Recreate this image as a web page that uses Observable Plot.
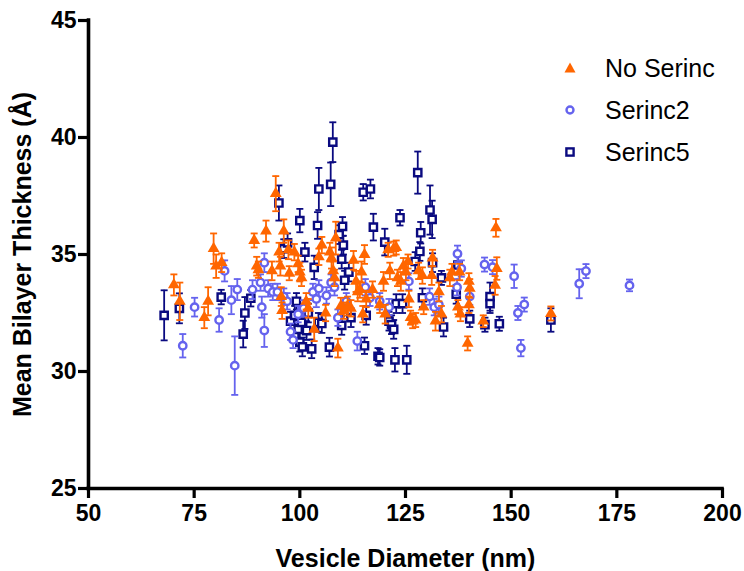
<!DOCTYPE html>
<html><head><meta charset="utf-8">
<script src="https://cdn.jsdelivr.net/npm/d3@7"></script>
<script src="https://cdn.jsdelivr.net/npm/@observablehq/plot@0.6"></script>
<style>
body{margin:0;background:#fff;font-family:"Liberation Sans",Arial,sans-serif}
#wrap{position:relative;width:744px;height:571px}
#legend{position:absolute;left:564px;top:47px;font-size:25px;color:#000}
.item{display:flex;align-items:center;height:42px}
.item svg{margin-right:29px;overflow:visible}
</style></head><body><div id="wrap"><div id="chart"></div><div id="legend"></div></div>
<script>
const seriesNames = ["No Serinc", "Serinc2", "Serinc5"];
const seriesColors = ["#ff6600", "#6563ee", "#0a0a80"];
const xTicks = [50, 75, 100, 125, 150, 175, 200];
const yTicks = [25, 30, 35, 40, 45];
const xTitle = "Vesicle Diameter (nm)";
const yTitle = "Mean Bilayer Thickness (Å)";

// No Serinc: diameter, thickness, error
const noSerincX = [70.2,71.6,77.4,78.3,79.6,80.2,81.5,89.2,89.8,90.2,92.0,93.4,94.3,95.1,95.4,95.8,95.6,96.2,97.3,97.5,98.7,99.6,100.0,100.4,101.5,102.0,103.4,104.5,105.2,106.1,107.1,107.5,107.9,108.2,108.5,109.0,109.7,110.4,111.3,112.1,112.7,113.3,113.7,114.2,114.6,114.9,115.3,115.7,117.2,118.9,119.8,120.2,120.9,121.3,122.2,122.8,123.1,123.9,124.5,125.1,125.6,125.8,126.2,126.7,127.4,128.1,129.0,129.3,131.2,131.4,132.1,132.9,133.5,135.5,136.0,137.4,137.8,138.0,139.7,140.0,140.2,140.0,143.4,146.4,146.6,146.2,159.4];
const noSerincY = [33.7,33.0,32.3,33.0,35.25,34.5,34.65,35.6,34.5,34.35,36.0,34.3,37.6,35.1,34.5,32.6,33.2,36.0,35.2,34.2,35.1,34.6,34.25,34.0,33.0,32.7,31.8,34.9,35.4,32.5,35.1,34.85,34.3,34.0,35.7,31.0,32.8,32.6,32.8,32.7,34.75,33.85,33.4,33.5,34.25,32.45,35.0,33.1,33.5,32.85,33.85,32.45,35.2,34.3,35.25,35.3,34.0,33.85,34.5,34.25,34.7,33.1,32.3,32.15,32.2,34.3,34.1,32.75,34.1,34.85,32.15,33.4,32.45,34.0,34.25,32.75,34.25,32.45,31.2,32.85,33.55,33.85,32.15,36.14,34.4,33.68,32.48];
const noSerincErr = [0.45,0.8,0.45,0.6,0.65,0.5,0.4,0.3,0.4,0.35,0.45,0.4,0.75,0.4,0.4,0.35,0.4,0.5,0.4,0.3,0.35,0.35,0.4,0.35,0.35,0.4,0.5,0.35,0.35,0.35,0.4,0.45,0.4,0.35,0.7,0.4,0.35,0.35,0.4,0.35,0.4,0.45,0.4,0.35,0.45,0.35,0.4,0.35,0.35,0.35,0.4,0.4,0.3,0.35,0.3,0.3,0.35,0.4,0.35,0.35,0.3,0.35,0.3,0.3,0.3,0.35,0.35,0.3,0.4,0.35,0.4,0.4,0.35,0.35,0.35,0.3,0.35,0.3,0.3,0.35,0.4,0.35,0.25,0.38,0.48,0.4,0.3];

// Serinc2
const serinc2X = [72.3,75.1,80.9,82.2,83.8,84.6,85.2,88.8,90.7,91.0,91.6,91.6,92.5,93.6,94.7,96.2,97.0,97.8,98.4,99.6,100.9,103.1,103.9,104.5,106.3,107.4,108.2,109.0,111.0,113.6,115.5,116.6,118.9,121.1,125.8,130.7,131.8,132.9,137.3,137.2,138.2,140.2,143.7,145.6,150.7,151.6,152.3,153.1,166.1,167.7,178.0];
const serinc2Y = [31.1,32.75,32.2,34.3,33.05,30.25,33.5,33.5,33.8,32.75,34.65,31.75,33.55,33.4,33.4,33.2,33.0,31.7,31.35,32.45,32.7,33.4,33.1,33.55,33.25,33.8,33.6,32.3,33.0,31.3,33.6,33.15,33.0,32.75,33.85,33.2,32.75,32.85,35.03,33.6,34.4,33.2,34.57,34.46,34.07,32.5,31.0,32.86,33.75,34.29,33.68];
const serinc2Err = [0.5,0.4,0.5,0.45,0.6,1.25,0.45,0.4,0.35,0.45,0.4,0.7,0.35,0.35,0.35,0.35,0.35,0.35,0.35,0.35,0.35,0.35,0.35,0.35,0.35,0.35,0.35,0.35,0.35,0.4,0.35,0.35,0.35,0.35,0.35,0.35,0.35,0.35,0.35,0.35,0.35,0.35,0.3,0.3,0.5,0.3,0.35,0.3,0.62,0.3,0.25];

// Serinc5
const serinc5X = [67.9,71.5,81.4,86.6,87.0,88.4,95.05,96.2,97.1,97.8,98.8,99.2,99.6,100.0,100.6,100.0,100.4,101.2,101.6,102.0,102.8,103.4,104.2,104.5,104.4,105.2,107.0,107.3,107.8,109.3,109.9,109.9,110.1,110.3,110.6,111.6,112.1,115.0,115.3,115.7,116.7,117.4,118.5,118.9,120.1,121.1,121.7,122.2,122.5,122.8,123.7,124.3,125.3,127.3,127.9,128.6,128.4,129.0,130.8,131.3,131.4,133.5,134.0,137.0,137.4,140.2,143.8,145.0,145.0,147.2,159.4];
const serinc5Y = [32.4,32.7,33.18,31.6,32.5,33.13,37.2,35.25,35.5,32.15,32.4,33.0,31.8,31.25,31.05,36.45,32.1,35.1,31.75,32.5,30.97,34.45,36.24,37.8,32.1,32.05,31.04,38.0,39.8,35.85,31.97,34.8,36.2,35.4,33.9,34.25,32.3,37.66,31.1,32.4,37.8,36.17,30.65,30.6,35.53,32.15,32.0,31.8,30.5,32.9,36.57,32.9,30.5,34.7,38.5,35.93,35.13,33.15,36.9,36.5,34.65,34.0,31.9,33.3,34.55,32.25,32.0,33.2,32.9,32.04,32.2];
const serinc5Err = [1.07,0.64,0.31,0.57,0.68,0.35,0.75,0.4,0.4,0.4,0.4,0.35,0.4,0.4,0.4,0.5,0.4,0.4,0.4,0.4,0.4,0.5,0.57,0.9,0.4,0.4,0.4,0.93,0.85,0.4,0.4,0.4,0.4,0.4,0.4,0.4,0.4,0.35,0.35,0.4,0.4,0.57,0.35,0.35,0.57,0.4,0.4,0.4,0.5,0.4,0.33,0.4,0.6,0.4,0.9,0.46,0.4,0.4,1.05,0.8,0.4,0.3,0.4,0.4,0.4,0.35,0.3,0.6,0.4,0.3,0.5];

const build = (xs, ys, es) => xs.map((x, i) => ({x, y: ys[i], e: es[i]}));
const datasets = [
  build(noSerincX, noSerincY, noSerincErr),
  build(serinc2X, serinc2Y, serinc2Err),
  build(serinc5X, serinc5Y, serinc5Err)
];

const cap = {draw(ctx) { ctx.moveTo(-3.5, 0); ctx.lineTo(3.5, 0); }};

function seriesMarks(i) {
  const data = datasets[i], c = seriesColors[i];
  const main = i === 0
    ? Plot.dot(data, {x: "x", y: "y", symbol: "triangle", r: 4.4, fill: c, stroke: "none"})
    : i === 1
    ? Plot.dot(data, {x: "x", y: "y", symbol: "circle", r: 3.7, fill: "white", stroke: c, strokeWidth: 2.4})
    : Plot.dot(data, {x: "x", y: "y", symbol: "square", r: 4.1, fill: "white", stroke: c, strokeWidth: 2.4});
  return [
    Plot.ruleX(data, {x: "x", y1: d => d.y - d.e, y2: d => d.y + d.e, stroke: c, strokeWidth: 1.8}),
    Plot.dot(data, {x: "x", y: d => d.y - d.e, symbol: cap, stroke: c, strokeWidth: 1.8, fill: "none"}),
    Plot.dot(data, {x: "x", y: d => d.y + d.e, symbol: cap, stroke: c, strokeWidth: 1.8, fill: "none"}),
    main
  ];
}

const chart = Plot.plot({
  width: 744,
  height: 571,
  marginLeft: 88,
  marginRight: 22,
  marginTop: 20,
  marginBottom: 83,
  style: {fontFamily: "'Liberation Sans', Arial, sans-serif", fontWeight: "bold", fontSize: "22px", color: "#000", background: "#fff"},
  x: {domain: [50, 200]},
  y: {domain: [25, 45]},
  marks: [
    ...seriesMarks(2),
    ...seriesMarks(1),
    ...seriesMarks(0),
    Plot.axisX({ticks: xTicks, tickSize: 10, tickPadding: 6, strokeWidth: 3.2, label: null, fontSize: 23, fontWeight: "bold"}),
    Plot.axisY({ticks: yTicks, tickSize: 10, tickPadding: 2, strokeWidth: 3.2, label: null, fontSize: 23, fontWeight: "bold"}),
    Plot.ruleX([50], {strokeWidth: 3.6, strokeLinecap: "square"}),
    Plot.ruleY([25], {strokeWidth: 3.6, strokeLinecap: "square"}),
    Plot.text([xTitle], {frameAnchor: "bottom", textAnchor: "middle", dy: 78, lineAnchor: "bottom", fontSize: 25, fontWeight: "bold", fill: "#000"}),
    Plot.text([yTitle], {frameAnchor: "left", textAnchor: "middle", dx: -58, rotate: -90, lineAnchor: "bottom", fontSize: 25, fontWeight: "bold", fill: "#000"})
  ]
});
document.getElementById("chart").appendChild(chart);

// Legend
const legend = document.getElementById("legend");
const ns = "http://www.w3.org/2000/svg";
seriesNames.forEach((name, i) => {
  const item = document.createElement("div");
  item.className = "item";
  const svg = document.createElementNS(ns, "svg");
  svg.setAttribute("width", 12); svg.setAttribute("height", 12);
  svg.setAttribute("viewBox", "-6 -6 12 12");
  let shape;
  if (i === 0) {
    shape = document.createElementNS(ns, "path");
    shape.setAttribute("d", "M0,-5.5L5.5,4.5L-5.5,4.5Z");
    shape.setAttribute("fill", seriesColors[i]);
  } else if (i === 1) {
    shape = document.createElementNS(ns, "circle");
    shape.setAttribute("r", 3.5);
    shape.setAttribute("fill", "white");
    shape.setAttribute("stroke", seriesColors[i]);
    shape.setAttribute("stroke-width", 2.4);
  } else {
    shape = document.createElementNS(ns, "rect");
    shape.setAttribute("x", -3.6); shape.setAttribute("y", -3.6);
    shape.setAttribute("width", 7.2); shape.setAttribute("height", 7.2);
    shape.setAttribute("fill", "white");
    shape.setAttribute("stroke", seriesColors[i]);
    shape.setAttribute("stroke-width", 2.4);
  }
  svg.appendChild(shape);
  item.appendChild(svg);
  const t = document.createElement("span");
  t.textContent = name;
  item.appendChild(t);
  legend.appendChild(item);
});
</script>
</body></html>
